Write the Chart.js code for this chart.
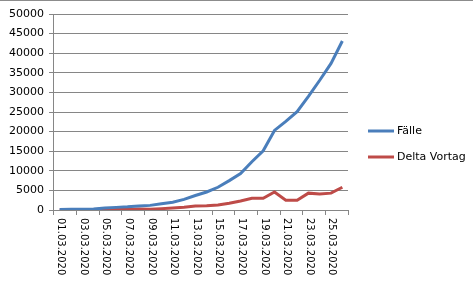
<!DOCTYPE html>
<html>
<head>
<meta charset="utf-8">
<script src="https://cdn.jsdelivr.net/npm/chart.js@4.4.1/dist/chart.umd.min.js"></script>
<style>
  html, body { margin: 0; padding: 0; background: #fff; }
  canvas { display: block; }
</style>
</head>
<body>
<canvas id="chart" width="473" height="285"></canvas>
<script>
// Datumswerte (01.03. bis 26.03.2020)
const dates = [
    '01.03.2020', '02.03.2020', '03.03.2020', '04.03.2020', '05.03.2020', '06.03.2020',
    '07.03.2020', '08.03.2020', '09.03.2020', '10.03.2020', '11.03.2020', '12.03.2020',
    '13.03.2020', '14.03.2020', '15.03.2020', '16.03.2020', '17.03.2020', '18.03.2020',
    '19.03.2020', '20.03.2020', '21.03.2020', '22.03.2020', '23.03.2020', '24.03.2020',
    '25.03.2020', '26.03.2020'
];
// Fälle (kumuliert)
const faelle = [
    130, 160, 200, 260, 480, 670, 800, 1040, 1180, 1600, 2000, 2700,
    3700, 4600, 5800, 7500, 9300, 12300, 15100, 20300, 22600, 25100,
    29000, 33100, 37400, 43100
];
// Delta zum Vortag
const deltaVortag = [
    30, 30, 40, 60, 150, 190, 130, 240, 200, 350, 500, 700,
    1000, 1100, 1300, 1700, 2300, 3000, 3000, 4600, 2500, 2500,
    4300, 4100, 4300, 5800
];
const yTicksMax = 50000;
const yTicksStep = 5000;

const gridGrey = '#868686';

// Obere Rahmenlinie, gedrehte Datumsbeschriftungen und Legende
const extrasPlugin = {
    id: 'extras',
    afterDraw(chart) {
        const ctx = chart.ctx;
        ctx.save();
        ctx.strokeStyle = '#8c8c8c';
        ctx.lineWidth = 1;
        ctx.beginPath();
        ctx.moveTo(0, 0.5);
        ctx.lineTo(chart.width, 0.5);
        ctx.stroke();

        const xScale = chart.scales.x;
        ctx.fillStyle = '#000';
        ctx.font = '10px "DejaVu Sans"';
        ctx.textAlign = 'left';
        ctx.textBaseline = 'middle';
        dates.forEach((d, i) => {
            if (i % 2 !== 0) return;
            const x = xScale.getPixelForValue(i);
            ctx.save();
            ctx.translate(x + 1, xScale.bottom + 3);
            ctx.rotate(Math.PI / 2);
            ctx.fillText(d, 0, 0);
            ctx.restore();
        });

        // Legende rechts
        const lx = chart.chartArea.right + 20;
        chart.data.datasets.forEach((ds, i) => {
            const y = 131 + i * 26;
            ctx.strokeStyle = ds.borderColor;
            ctx.lineWidth = 3;
            ctx.beginPath();
            ctx.moveTo(lx, y);
            ctx.lineTo(lx + 26, y);
            ctx.stroke();
            ctx.fillStyle = '#000';
            ctx.font = '11px "DejaVu Sans"';
            ctx.textAlign = 'left';
            ctx.textBaseline = 'middle';
            ctx.fillText(ds.label, lx + 29, y);
        });
        ctx.restore();
    }
};

new Chart(document.getElementById('chart').getContext('2d'), {
    type: 'line',
    data: {
        labels: dates,
        datasets: [
            {
                label: 'Fälle',
                data: faelle,
                borderColor: '#4A7EBB',
                borderWidth: 3,
                pointRadius: 0,
                tension: 0,
                fill: false
            },
            {
                label: 'Delta Vortag',
                data: deltaVortag,
                borderColor: '#BE4B48',
                borderWidth: 3,
                pointRadius: 0,
                tension: 0,
                fill: false
            }
        ]
    },
    options: {
        responsive: false,
        animation: false,
        devicePixelRatio: 1,
        layout: { padding: { left: 4, top: 14, right: 125, bottom: 70 } },
        plugins: {
            legend: { display: false },
            tooltip: { enabled: false }
        },
        scales: {
            x: {
                offset: true,
                grid: {
                    offset: true,
                    drawOnChartArea: false,
                    drawTicks: true,
                    tickLength: 5,
                    color: ctx => (ctx.index === undefined || ctx.index % 2 === 0) ? gridGrey : 'rgba(0,0,0,0)'
                },
                border: { color: gridGrey, width: 1 },
                ticks: { display: false, autoSkip: false }
            },
            y: {
                min: 0,
                max: yTicksMax,
                grid: { color: gridGrey, tickLength: 5 },
                border: { color: gridGrey, width: 1 },
                ticks: {
                    stepSize: yTicksStep,
                    padding: 5,
                    color: '#000',
                    font: { family: 'DejaVu Sans', size: 11 },
                    callback: value => String(value)
                }
            }
        }
    },
    plugins: [extrasPlugin]
});
</script>
</body>
</html>
